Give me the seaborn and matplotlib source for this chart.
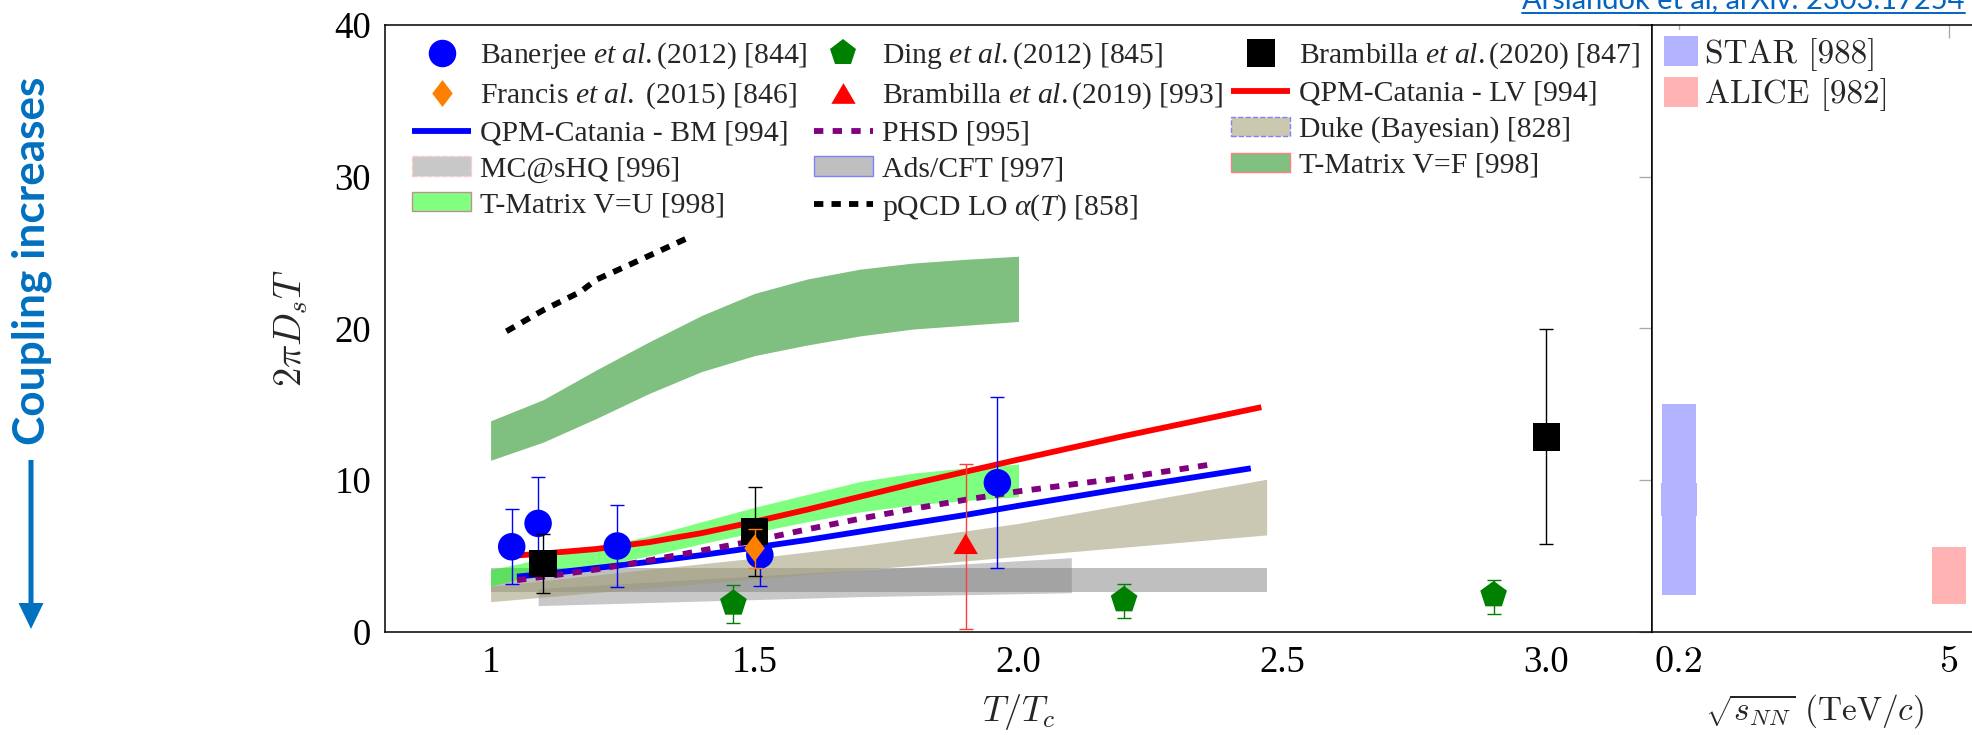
import numpy as np
import matplotlib
matplotlib.use("Agg")
import matplotlib.pyplot as plt
import seaborn as sns
from matplotlib.lines import Line2D
from matplotlib.patches import Patch, FancyArrow
from matplotlib.path import Path
from matplotlib.font_manager import FontProperties
from matplotlib.transforms import IdentityTransform

# ---------------- lattice QCD points: T/Tc, value, error-bar ends ----------------
banerjee_T = [1.04, 1.09, 1.24, 1.51, 1.96]
banerjee_D = [5.60, 7.14, 5.65, 5.06, 9.82]
banerjee_lo = [3.14, 4.10, 2.95, 3.03, 4.22]
banerjee_hi = [8.09, 10.18, 8.35, 7.09, 15.49]

ding_T = [1.46, 2.20, 2.90]
ding_D = [1.87, 2.09, 2.42]
ding_lo = [0.55, 0.90, 1.16]
ding_hi = [3.08, 3.14, 3.41]

bram20_T = [1.10, 1.50, 3.00]
bram20_D = [4.50, 6.60, 12.85]
bram20_lo = [2.53, 3.67, 5.76]
bram20_hi = [6.44, 9.52, 19.93]

francis_T = [1.50]
francis_D = [5.50]
francis_lo = [4.22]
francis_hi = [6.78]

bram19_T = [1.90]
bram19_D = [5.80]
bram19_lo = [0.20]
bram19_hi = [11.03]

# ---------------- model curves ----------------
lv_T = [1.04, 1.10, 1.20, 1.30, 1.40, 1.50, 1.60, 1.70, 1.80, 1.90, 2.00, 2.20, 2.46]
lv_D = [5.00, 5.15, 5.45, 5.90, 6.50, 7.25, 8.05, 8.90, 9.75, 10.55, 11.35, 12.90, 14.80]

bm_T = [1.05, 1.10, 1.20, 1.30, 1.40, 1.50, 1.60, 1.70, 1.80, 1.90, 2.00, 2.20, 2.44]
bm_D = [3.63, 3.80, 4.20, 4.60, 5.05, 5.55, 6.05, 6.60, 7.15, 7.70, 8.30, 9.45, 10.77]

phsd_T = [1.05, 1.10, 1.20, 1.30, 1.40, 1.50, 1.60, 1.70, 1.80, 1.90, 2.00, 2.10, 2.20, 2.37]
phsd_D = [3.40, 3.62, 4.10, 4.70, 5.35, 6.00, 6.75, 7.45, 8.10, 8.70, 9.25, 9.70, 10.15, 11.05]

pqcd_T = [1.03, 1.10, 1.17, 1.20, 1.27, 1.37]
pqcd_D = [19.8, 21.2, 22.4, 23.2, 24.3, 25.9]

# ---------------- model bands ----------------
vf_T = [1.0, 1.1, 1.2, 1.3, 1.4, 1.5, 1.6, 1.7, 1.8, 1.9, 2.0]
vf_hi = [13.9, 15.3, 17.25, 19.1, 20.85, 22.3, 23.25, 23.9, 24.3, 24.55, 24.75]
vf_lo = [11.3, 12.5, 14.05, 15.7, 17.15, 18.2, 18.9, 19.5, 19.95, 20.2, 20.45]

vu_T = [1.0, 1.05, 1.1, 1.2, 1.3, 1.4, 1.5, 1.6, 1.7, 1.8, 1.9, 2.0]
vu_hi = [4.1, 4.45, 4.85, 5.55, 6.3, 7.25, 8.2, 9.05, 9.9, 10.45, 10.8, 11.05]
vu_lo = [3.0, 3.45, 3.9, 4.3, 5.0, 5.8, 6.55, 7.25, 7.9, 8.35, 8.65, 8.9]

duke_T = [1.0, 1.5, 1.7, 2.0, 2.47]
duke_hi = [3.0, 4.85, 5.67, 7.14, 10.05]
duke_lo = [1.98, 3.48, 4.07, 4.97, 6.38]

mcs_T = [1.09, 1.70, 2.10]
mcs_lo = [1.72, 2.31, 2.57]
mcs_hi = [2.85, 4.07, 4.88]

ads_T = [1.0, 2.47]
ads_lo = [2.64, 2.64]
ads_hi = [4.18, 4.18]

# ---------------- experimental extractions ----------------
exp_energy = ["0.2", "5"]
exp_names = ["STAR [988]", "ALICE [982]"]
exp_lo = [2.45, 1.80]
exp_hi = [15.0, 5.60]
star_core = (7.6, 9.8)

x_ticks = [1.0, 1.5, 2.0, 2.5, 3.0]
x_ticklabels = ["1", "1.5", "2.0", "2.5", "3.0"]
y_ticks = [0, 10, 20, 30, 40]

# ---------------- style ----------------
sns.set_theme(style="white")
plt.rcParams.update({
    "font.family": ["Liberation Serif", "DejaVu Serif"],
    "mathtext.fontset": "custom",
    "mathtext.rm": "Liberation Serif",
    "mathtext.it": "Liberation Serif:italic",
    "mathtext.bf": "Liberation Serif:bold",
    "axes.linewidth": 1.1,
    "axes.edgecolor": "black",
})

W, H = 1972, 735
fig = plt.figure(figsize=(W / 100, H / 100), dpi=100)
y_bot, y_top = 631.7, 24.9
ax = fig.add_axes([385 / W, 1 - y_bot / H, (1652 - 385) / W, (y_bot - y_top) / H])
ax2_w = W * 1.02 - 1652
ax2 = fig.add_axes([1652 / W, 1 - y_bot / H, ax2_w / W, (y_bot - y_top) / H])

RED, BLUE, PURPLE = "#ff0000", "#0000ff", "#800080"
GREEN_PT, ORANGE = "#008000", "#ff8000"
LW = 4.2

# bands
ax.fill_between(ads_T, ads_lo, ads_hi, color="0.5", alpha=0.5, lw=0, zorder=1.0)
ax.fill_between(mcs_T, mcs_lo, mcs_hi, color="0.5", alpha=0.43, lw=0, zorder=1.1)
ax.fill_between(duke_T, duke_lo, duke_hi, color=(160 / 255, 156 / 255, 116 / 255), alpha=0.55, lw=0, zorder=1.2)
ax.fill_between(vu_T, vu_lo, vu_hi, color=(0, 1, 0), alpha=0.5, lw=0, zorder=1.3)
ax.fill_between(vf_T, vf_lo, vf_hi, color=(0, 0.5, 0), alpha=0.5, lw=0, zorder=1.3)

# curves
def curve(x, y, **kw):
    sns.lineplot(x=x, y=y, ax=ax, sort=False, estimator=None, lw=LW, **kw)

curve(lv_T, lv_D, color=RED, solid_capstyle="butt", zorder=4)
curve(bm_T, bm_D, color=BLUE, solid_capstyle="butt", zorder=4)
curve(phsd_T, phsd_D, color=PURPLE, linestyle=(0, (1.6, 1.6)), dash_capstyle="butt", zorder=4)
curve(pqcd_T, pqcd_D, color="black", linestyle=(0, (1.6, 1.4)), dash_capstyle="butt", zorder=4)

# markers
DIAMOND = Path([(0, 1), (0.76, 0), (0, -1), (-0.76, 0), (0, 1)], closed=True)
TRIANGLE = Path([(0, 0.85), (-1, -0.85), (1, -0.85), (0, 0.85)], closed=True)

def points(T, D, lo, hi, color, marker, size, z, ecolor=None):
    D = np.asarray(D, float)
    yerr = [D - np.asarray(lo), np.asarray(hi) - D]
    ax.errorbar(T, D, yerr=yerr, fmt="none", ecolor=ecolor or color,
                elinewidth=1.0, capsize=4.7, capthick=1.0, zorder=z)
    sns.scatterplot(x=T, y=D, ax=ax, marker=marker, s=size ** 2, color=color,
                    edgecolor="none", linewidth=0, zorder=z + 0.1, legend=False)

points(banerjee_T, banerjee_D, banerjee_lo, banerjee_hi, BLUE, "o", 19.8, 6.0)
points(ding_T, ding_D, ding_lo, ding_hi, GREEN_PT, "p", 20.2, 6.2)
points(bram20_T, bram20_D, bram20_lo, bram20_hi, "black", "s", 20.0, 6.4)
points(francis_T, francis_D, francis_lo, francis_hi, ORANGE, DIAMOND, 19.4, 6.6)
points(bram19_T, bram19_D, bram19_lo, bram19_hi, RED, TRIANGLE, 17.5, 6.8, ecolor="#ff3c3c")

# axes formatting (main)
ax.set_xlim(0.8, 3.2)
ax.set_ylim(0, 40)
ax.set_xticks(x_ticks, x_ticklabels)
ax.set_yticks(y_ticks)
tick_kw = dict(direction="in", length=9.4, width=0.95, color="#a8a8a8",
               labelcolor="black", pad=10)
ax.tick_params(axis="both", top=False, right=True, labelsize=26.5, **tick_kw)
for s in ax.spines.values():
    s.set_color("black")
ax.set_xlabel(r"$T/T_c$", fontsize=26, math_fontfamily="cm")
ax.set_ylabel(r"$2\pi D_s T$", fontsize=28, math_fontfamily="cm")
ax.xaxis.set_label_coords(0.5, -0.100)
ax.xaxis.label.set_verticalalignment("top")
ax.yaxis.set_label_coords(-0.0734, 0.5)
ax.yaxis.label.set_verticalalignment("center")

# legend (main): three columns, each placed on its own
def ln(**kw):
    return Line2D([], [], **kw)

legend_columns = [
    [
        (ln(marker="o", ms=19.8, color=BLUE, ls="none", mew=0), r"Banerjee $\it{et\ al.}$(2012) [844]"),
        (ln(marker=DIAMOND, ms=19.4, color=ORANGE, ls="none", mew=0), r"Francis $\it{et\ al.}$ (2015) [846]"),
        (ln(color=BLUE, lw=LW, solid_capstyle="butt"), "QPM-Catania - BM [994]"),
        (Patch(facecolor="#c8c8c8", edgecolor="#ffc8c8", ls="--", lw=1.0), "MC@sHQ [996]"),
        (Patch(facecolor="#80ff80", edgecolor="#c09090", lw=1.0), "T-Matrix V=U [998]"),
    ],
    [
        (ln(marker="p", ms=20.2, color=GREEN_PT, ls="none", mew=0), r"Ding $\it{et\ al.}$(2012) [845]"),
        (ln(marker=TRIANGLE, ms=17.5, color=RED, ls="none", mew=0), r"Brambilla $\it{et\ al.}$(2019) [993]"),
        (ln(color=PURPLE, lw=LW, ls=(0, (1.6, 1.6)), dash_capstyle="butt"), "PHSD [995]"),
        (Patch(facecolor="#bfbfbf", edgecolor="#8080ff", lw=1.0), "Ads/CFT [997]"),
        (ln(color="black", lw=LW, ls=(0, (1.6, 1.4)), dash_capstyle="butt"), r"pQCD LO $\alpha(T)$ [858]"),
    ],
    [
        (ln(marker="s", ms=20.0, color="black", ls="none", mew=0), r"Brambilla $\it{et\ al.}$(2020) [847]"),
        (ln(color=RED, lw=LW, solid_capstyle="butt"), "QPM-Catania - LV [994]"),
        (Patch(facecolor="#cbc8b0", edgecolor="#8080ff", ls="--", lw=1.0), "Duke (Bayesian) [828]"),
        (Patch(facecolor="#80c080", edgecolor="#ff8080", lw=1.0), "T-Matrix V=F [998]"),
    ],
]
column_x = [0.0213, 0.3383, 0.6677]
LEG_FS = 21.4
for i, (items, cx) in enumerate(zip(legend_columns, column_x)):
    lg = ax.legend([h for h, _ in items], [l for _, l in items], loc="upper left",
                   bbox_to_anchor=(cx, 0.9745), borderaxespad=0, borderpad=0,
                   frameon=False, fontsize=LEG_FS, handlelength=1.99,
                   handleheight=0.62, handletextpad=0.31, labelspacing=0.32,
                   numpoints=1)
    lg.set_zorder(10)
    if i < len(legend_columns) - 1:
        ax.add_artist(lg)

# right panel: experimental bands
pos = np.arange(len(exp_energy))
exp_colors = ["#b3b3ff", "#ffb3b3"]
ax2.bar(pos, np.subtract(exp_hi, exp_lo), bottom=exp_lo, width=0.126, color=exp_colors, lw=0)
ax2.bar([0], [star_core[1] - star_core[0]], bottom=[star_core[0]], width=0.130, color=exp_colors[0], lw=0)
ax2.set_ylim(0, 40)
ax2.set_xlim(-0.1, -0.1 + ax2_w / 270.0)
ax2.set_xticks(pos, exp_energy, fontfamily="cmr10", fontsize=27.5)
ax2.set_yticks([])
ax2.tick_params(axis="x", top=True, **tick_kw)
for s in ax2.spines.values():
    s.set_color("black")
ax2.set_xlabel(r"$\sqrt{s_{NN}}$ (TeV/$c$)", fontsize=24, fontfamily="cmr10", math_fontfamily="cm")
ax2.xaxis.set_label_coords(0.4508, -0.100)
ax2.xaxis.label.set_verticalalignment("top")
leg2 = ax2.legend([Patch(facecolor=c, lw=0) for c in exp_colors], exp_names,
                  loc="upper left", bbox_to_anchor=(0.016, 0.992), borderaxespad=0,
                  borderpad=0.2, frameon=True, fancybox=False, facecolor="white",
                  edgecolor="none", framealpha=1,
                  prop=FontProperties(family="cmr10", size=24),
                  handlelength=1.02, handleheight=0.99, handletextpad=0.2,
                  labelspacing=0.2)
leg2.set_zorder(10)

# side annotation and reference link
BLUE_NOTE = "#0070C0"
note = fig.text(32 / W, 1 - 260.5 / H, "Coupling increases", rotation=90,
                ha="center", va="center", color=BLUE_NOTE, fontfamily="Lato",
                fontweight="bold", fontsize=28)
link = fig.text(1522 / W, 1 - 8.5 / H, "Arslandok et al, arXiv: 2303.17254",
                ha="left", va="baseline", color="#0563C1", fontfamily="Lato", fontsize=20)

renderer = fig.canvas.get_renderer()
bb = note.get_window_extent(renderer)
note.set_fontsize(note.get_fontsize() * 367.0 / bb.height)
bb = link.get_window_extent(renderer)
link.set_fontsize(link.get_fontsize() * 443.0 / bb.width)

fig.add_artist(Line2D([1522 / W, 1965 / W], [1 - 12.7 / H] * 2, transform=fig.transFigure,
                      color="#0563C1", lw=1.4))
fig.add_artist(FancyArrow(31, H - 460, 0, -(629 - 460), width=5, head_width=25,
                          head_length=26, length_includes_head=True, color=BLUE_NOTE,
                          lw=0, transform=IdentityTransform()))

fig.savefig("out.png", dpi=100)
